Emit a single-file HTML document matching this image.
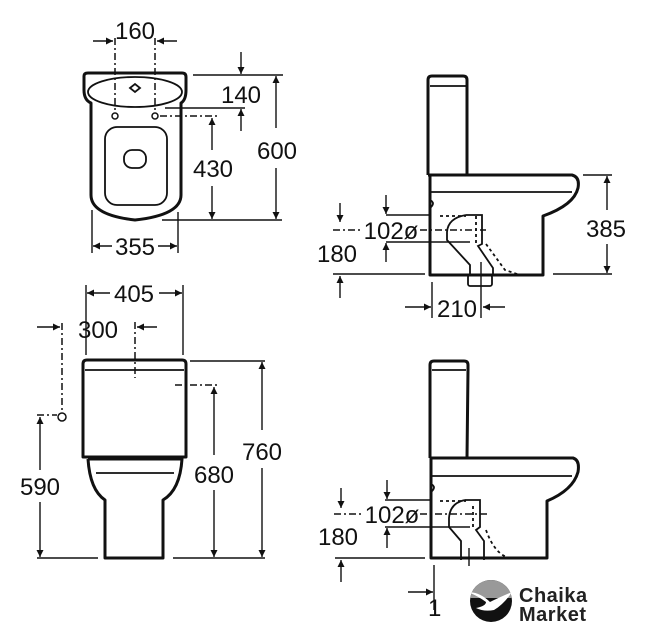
<!DOCTYPE html>
<html><head><meta charset="utf-8"><style>
html,body{margin:0;padding:0;background:#fff;width:647px;height:640px;overflow:hidden}
svg{display:block}
text{font-family:"Liberation Sans",Arial,sans-serif;fill:#111}
.o{fill:none;stroke:#111;stroke-width:3;stroke-linejoin:round}
.t{fill:none;stroke:#111;stroke-width:1.8}
.d{fill:none;stroke:#111;stroke-width:1.4}
.dd{fill:none;stroke:#111;stroke-width:1.5;stroke-dasharray:7 3 2 3}
.dt{fill:none;stroke:#111;stroke-width:1.8;stroke-dasharray:3 3}
.n{font-size:24px;text-anchor:middle}
</style></head><body>
<svg width="647" height="640" viewBox="0 0 647 640" xmlns="http://www.w3.org/2000/svg">
<defs>
<marker id="a" viewBox="0 0 10 10" refX="10" refY="5" markerWidth="10" markerHeight="7" markerUnits="userSpaceOnUse" orient="auto"><path d="M0,0 L10,5 L0,10 z" fill="#111"/></marker>
</defs>

<!-- TOP-LEFT -->
<path class="o" d="M84,76 Q84,73 88,73 L182,73 Q186,73 186,77 L186,90 Q186,100 181,103 L181,195 Q181,215 135,220 Q91,215 91,195 L91,103 Q84,100 84,90 Z"/>
<ellipse class="t" cx="135" cy="92" rx="47" ry="15"/>
<path class="t" d="M130,88 l5,-4 l5,4 l-5,4 z"/>
<rect class="t" x="105" y="127" width="62" height="78" rx="12"/>
<rect class="t" x="124" y="150" width="22" height="18" rx="8"/>
<circle cx="115" cy="116" r="3" fill="none" stroke="#111" stroke-width="1.5"/>
<circle cx="155" cy="116" r="3" fill="none" stroke="#111" stroke-width="1.5"/>
<line class="dd" x1="115" y1="38" x2="115" y2="110"/>
<line class="dd" x1="155" y1="38" x2="155" y2="110"/>
<line class="d" x1="93" y1="41" x2="113" y2="41" marker-end="url(#a)"/>
<line class="d" x1="177" y1="41" x2="157" y2="41" marker-end="url(#a)"/>
<text class="n" x="135" y="39">160</text>
<line class="d" x1="193" y1="75" x2="283" y2="75"/>
<line class="d" x1="165" y1="108" x2="245" y2="108"/>
<line class="d" x1="241" y1="52" x2="241" y2="74" marker-end="url(#a)"/>
<line class="d" x1="241" y1="131" x2="241" y2="109" marker-end="url(#a)"/>
<text class="n" x="241" y="103">140</text>
<line class="d" x1="162" y1="220" x2="282" y2="220"/>
<line class="d" x1="276" y1="128" x2="276" y2="76" marker-end="url(#a)"/>
<line class="d" x1="276" y1="168" x2="276" y2="219" marker-end="url(#a)"/>
<text class="n" x="277" y="159">600</text>
<line class="dd" x1="160" y1="116" x2="218" y2="116"/>
<line class="d" x1="212" y1="150" x2="212" y2="118" marker-end="url(#a)"/>
<line class="d" x1="212" y1="186" x2="212" y2="219" marker-end="url(#a)"/>
<text class="n" x="213" y="177">430</text>
<line class="d" x1="92" y1="210" x2="92" y2="253"/>
<line class="d" x1="178" y1="212" x2="178" y2="253"/>
<line class="d" x1="112" y1="246" x2="93" y2="246" marker-end="url(#a)"/>
<line class="d" x1="158" y1="246" x2="177" y2="246" marker-end="url(#a)"/>
<text class="n" x="135" y="255">355</text>

<!-- TOP-RIGHT -->
<path class="o" d="M428,175 L428,80 Q428,76 432,76 L463,76 Q467,76 467,80 L467,86 L467,175"/>
<line class="t" x1="430" y1="86" x2="466" y2="86"/>
<path class="o" d="M428,175 L572,175 Q580,177 578,188 Q574,205 543,216 L543,275 L430,275 L430,175"/>
<line class="t" x1="431" y1="192" x2="572" y2="192"/>
<path class="t" d="M430,200 q6,3 0,8"/>
<path class="t" d="M466,215 Q448,218 447,232 L447,240 L470,265 L470,275"/>
<path class="t" d="M466,215 L482,215 L482,244 L478,246 L493,268 L493,275"/>
<line class="dt" x1="440" y1="216" x2="466" y2="216"/>
<path class="dt" d="M486,244 L505,270 L520,275"/>
<line class="dt" x1="476" y1="216" x2="476" y2="245"/>
<rect class="t" x="468" y="275" width="24" height="11" rx="2"/>
<line class="d" x1="481" y1="262" x2="481" y2="318"/>
<line class="d" x1="583" y1="175" x2="612" y2="175"/>
<line class="d" x1="553" y1="274" x2="612" y2="274"/>
<line class="d" x1="607" y1="210" x2="607" y2="176" marker-end="url(#a)"/>
<line class="d" x1="607" y1="244" x2="607" y2="273" marker-end="url(#a)"/>
<text class="n" x="606" y="237">385</text>
<line class="d" x1="386" y1="215" x2="430" y2="215"/>
<line class="d" x1="386" y1="242" x2="470" y2="242"/>
<line class="d" x1="386" y1="195" x2="386" y2="214" marker-end="url(#a)"/>
<line class="d" x1="386" y1="262" x2="386" y2="243" marker-end="url(#a)"/>
<line class="dd" x1="333" y1="230" x2="362" y2="230"/>
<line class="dd" x1="420" y1="230" x2="486" y2="230"/>
<text class="n" x="391" y="239">102ø</text>
<line class="d" x1="333" y1="274" x2="425" y2="274"/>
<line class="d" x1="340" y1="203" x2="340" y2="222" marker-end="url(#a)"/>
<line class="d" x1="340" y1="298" x2="340" y2="276" marker-end="url(#a)"/>
<text class="n" x="337" y="262">180</text>
<line class="d" x1="432" y1="282" x2="432" y2="318"/>
<line class="d" x1="405" y1="307" x2="431" y2="307" marker-end="url(#a)"/>
<line class="d" x1="505" y1="307" x2="483" y2="307" marker-end="url(#a)"/>
<text class="n" x="457" y="317">210</text>

<!-- BOTTOM-LEFT -->
<path class="o" d="M83,364 Q83,360 87,360 L182,360 Q186,360 186,364 L186,457 L83,457 Z"/>
<line class="t" x1="85" y1="370" x2="184" y2="370"/>
<path class="o" d="M88,459 L182,459 Q180,490 163,500 L163,558 L105,558 L105,500 Q90,490 88,459"/>
<line class="t" x1="96" y1="473" x2="174" y2="473"/>
<line class="d" x1="86" y1="285" x2="86" y2="355"/>
<line class="d" x1="183" y1="285" x2="183" y2="355"/>
<line class="d" x1="110" y1="293" x2="87" y2="293" marker-end="url(#a)"/>
<line class="d" x1="159" y1="293" x2="182" y2="293" marker-end="url(#a)"/>
<text class="n" x="134" y="302">405</text>
<line class="dd" x1="62" y1="323" x2="62" y2="412"/>
<circle cx="62" cy="417" r="4" fill="#fff" stroke="#111" stroke-width="1.5"/>
<line class="dd" x1="135" y1="322" x2="135" y2="378"/>
<line class="d" x1="37" y1="327" x2="60" y2="327" marker-end="url(#a)"/>
<line class="d" x1="157" y1="327" x2="137" y2="327" marker-end="url(#a)"/>
<text class="n" x="98" y="338">300</text>
<line class="dd" x1="37" y1="415" x2="57" y2="415"/>
<line class="d" x1="37" y1="558" x2="98" y2="558"/>
<line class="d" x1="173" y1="558" x2="265" y2="558"/>
<line class="d" x1="40" y1="470" x2="40" y2="417" marker-end="url(#a)"/>
<line class="d" x1="40" y1="502" x2="40" y2="557" marker-end="url(#a)"/>
<text class="n" x="40" y="495">590</text>
<line class="dd" x1="175" y1="385" x2="220" y2="385"/>
<line class="d" x1="214" y1="455" x2="214" y2="387" marker-end="url(#a)"/>
<line class="d" x1="214" y1="490" x2="214" y2="557" marker-end="url(#a)"/>
<text class="n" x="214" y="483">680</text>
<line class="d" x1="190" y1="361" x2="265" y2="361"/>
<line class="d" x1="262" y1="430" x2="262" y2="362" marker-end="url(#a)"/>
<line class="d" x1="262" y1="468" x2="262" y2="557" marker-end="url(#a)"/>
<text class="n" x="262" y="460">760</text>

<!-- BOTTOM-RIGHT -->
<path class="o" d="M430,458 L430,365 Q430,361 434,361 L464,361 Q468,361 468,365 L468,370 L467,458"/>
<line class="t" x1="432" y1="370" x2="466" y2="370"/>
<path class="o" d="M430,458 L573,458 Q580,460 578,472 Q573,490 547,501 L547,558 L431,558 L431,458"/>
<line class="t" x1="432" y1="476" x2="572" y2="476"/>
<path class="t" d="M431,484 q6,3 0,8"/>
<path class="t" d="M465,500 Q450,503 449,518 L449,527 L461,541 L461,560"/>
<path class="t" d="M465,500 L480,500 L480,527 L476,530 L484,541 L484,560"/>
<line class="dt" x1="440" y1="501" x2="466" y2="501"/>
<path class="dt" d="M473,506 L473,530 M486,530 Q495,555 510,558"/>
<line class="d" x1="469" y1="548" x2="469" y2="566"/>
<line class="d" x1="385" y1="500" x2="430" y2="500"/>
<line class="d" x1="385" y1="527" x2="470" y2="527"/>
<line class="d" x1="387" y1="480" x2="387" y2="499" marker-end="url(#a)"/>
<line class="d" x1="387" y1="548" x2="387" y2="528" marker-end="url(#a)"/>
<line class="dd" x1="334" y1="514" x2="362" y2="514"/>
<line class="dd" x1="420" y1="514" x2="490" y2="514"/>
<text class="n" x="392" y="523">102ø</text>
<line class="d" x1="335" y1="558" x2="425" y2="558"/>
<line class="d" x1="341" y1="488" x2="341" y2="508" marker-end="url(#a)"/>
<line class="d" x1="341" y1="582" x2="341" y2="560" marker-end="url(#a)"/>
<text class="n" x="338" y="545">180</text>
<line class="d" x1="434" y1="565" x2="434" y2="610"/>
<line class="d" x1="408" y1="592" x2="433" y2="592" marker-end="url(#a)"/>
<text x="428" y="616" font-size="24">1</text>

<clipPath id="c"><circle cx="491" cy="601" r="21"/></clipPath>
<g clip-path="url(#c)">
<rect x="470" y="580" width="42" height="42" fill="#111"/>
<rect x="470" y="580" width="42" height="18" fill="#999"/>
<path d="M468,592 Q480,592 490,602 Q498,598 512,592 Q504,604 494,610 Q484,612 476,608 Q486,606 486,602 Q478,596 468,592 Z" fill="#fff"/>
</g>
<text x="519" y="602" font-size="20" font-weight="bold" style="fill:#222;letter-spacing:0.5px">Chaika</text>
<text x="519" y="621" font-size="20" font-weight="bold" style="fill:#222;letter-spacing:0.5px">Market</text>
</svg>
</body></html>
